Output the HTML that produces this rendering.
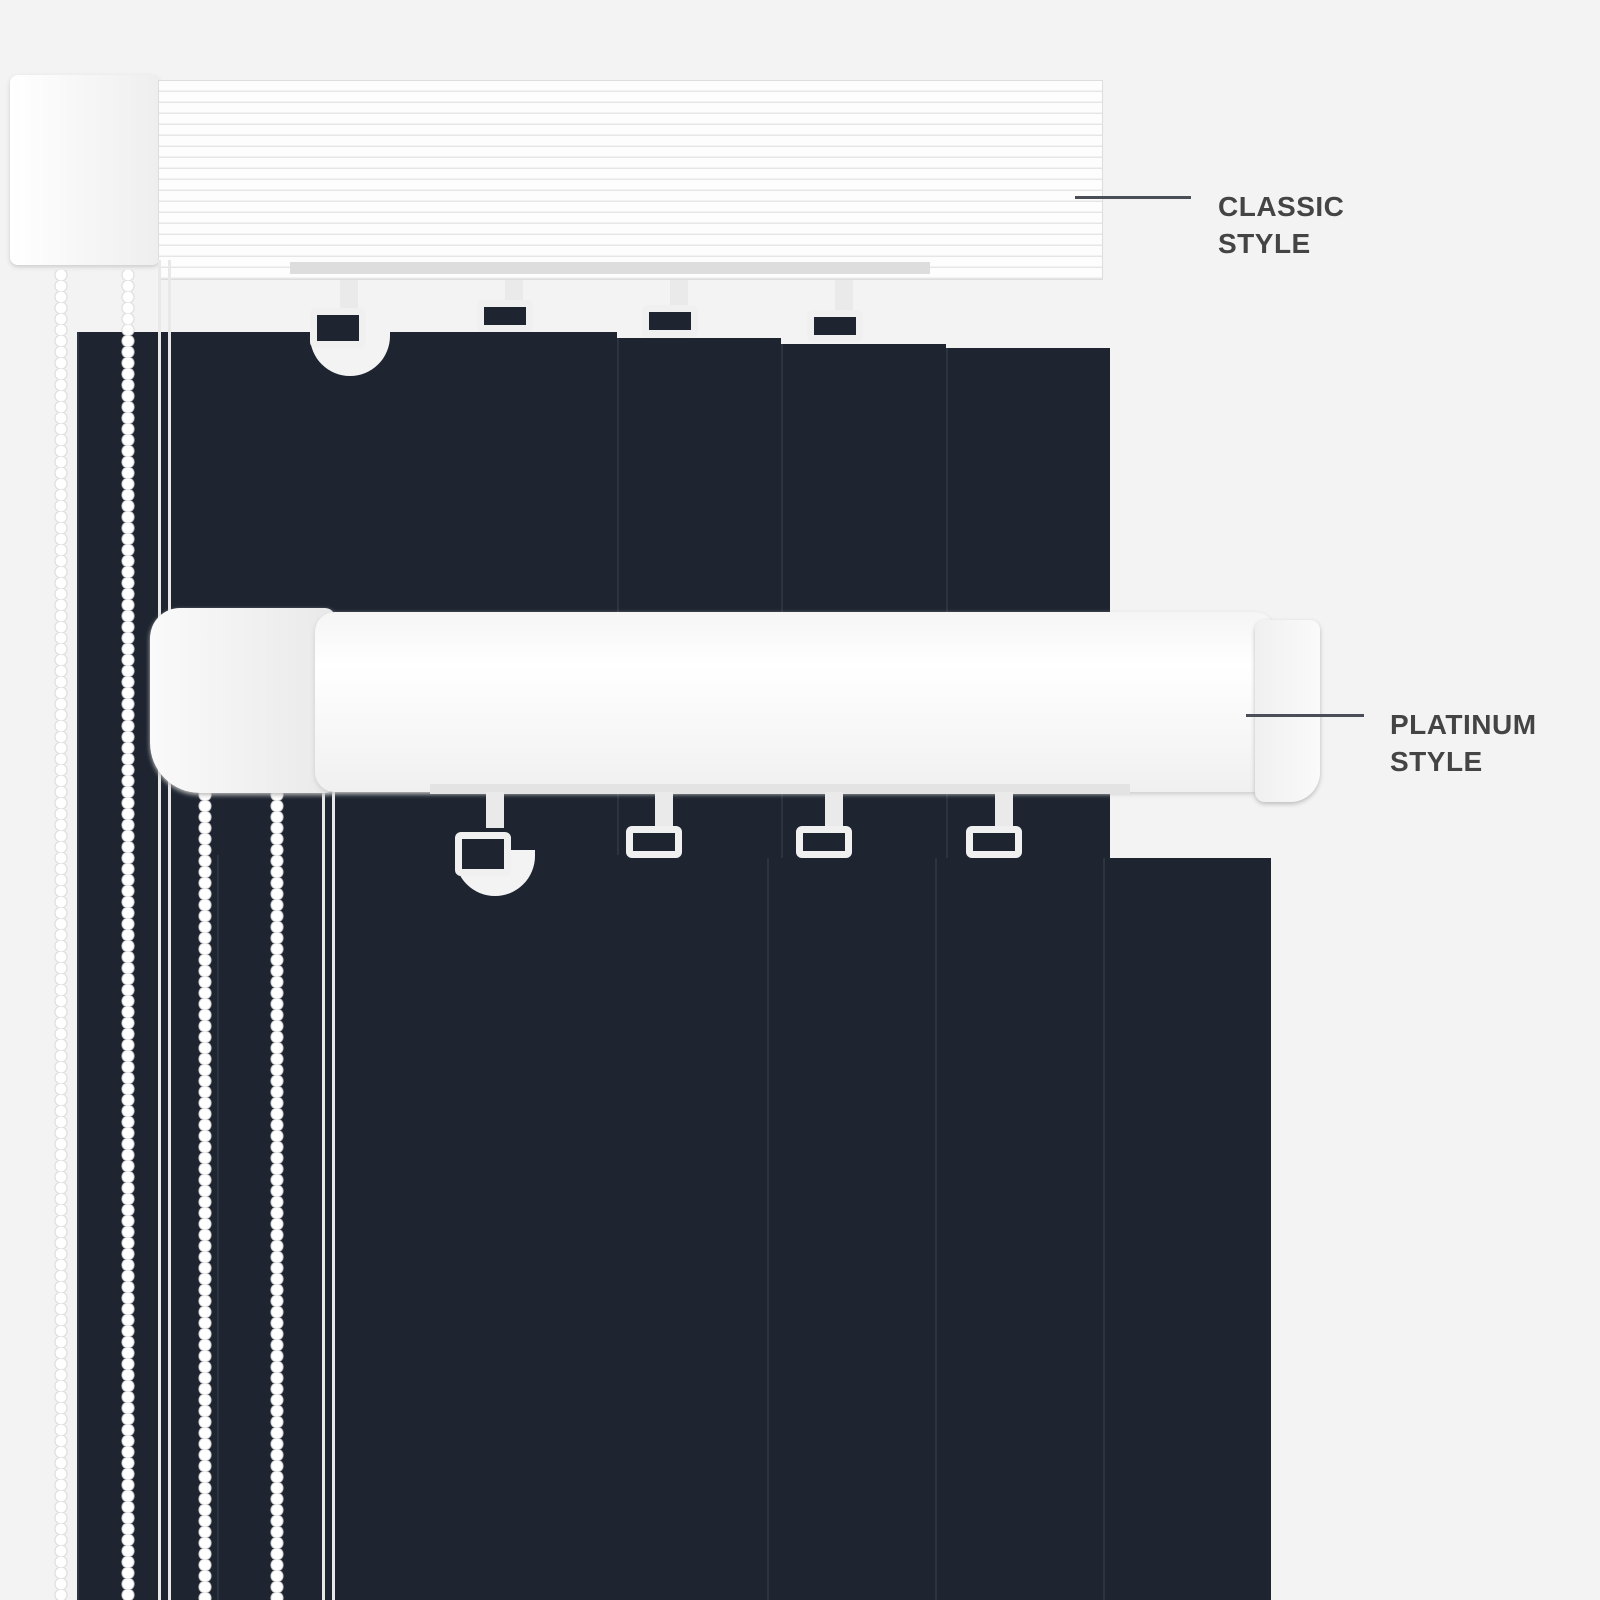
<!DOCTYPE html>
<html><head><style>
body{margin:0;width:1600px;height:1600px;background:#f3f3f3;position:relative;overflow:hidden;font-family:"Liberation Sans",sans-serif}
div{position:absolute;box-sizing:border-box}
.slat{background:#1e2531;border-left:2px solid #2c3441}
.bead{width:14px;background:radial-gradient(circle at 7px 5px,#fff 5px,#d8d8d8 6px,transparent 7px) 0 0/14px 11px repeat-y}
.cord{width:3px;background:#e8e8e8}
.hook{width:56px;height:40px;border:7px solid #f0f0f0;border-radius:6px;background:#1e2531}
.stem{width:18px;height:36px;background:#eaeaea}
.lbl{color:#444;font-size:28px;font-weight:bold;line-height:37px;letter-spacing:0.5px}
.line{height:3px;background:#4a4f57}
</style></head><body>
<!-- back slats -->
<div class="slat" style="left:77px;top:332px;width:540px;height:1268px"></div>
<div class="slat" style="left:617px;top:338px;width:164px;height:1262px"></div>
<div class="slat" style="left:781px;top:344px;width:165px;height:1256px"></div>
<div class="slat" style="left:946px;top:348px;width:164px;height:1252px"></div>
<div style="left:310px;top:330px;width:80px;height:46px;border-radius:0 0 40px 40px;background:#f3f3f3"></div>
<!-- classic rail -->
<div style="left:10px;top:75px;width:150px;height:190px;background:linear-gradient(90deg,#fff,#eee);border-radius:8px;box-shadow:0 2px 4px #ccc"></div>
<div style="left:158px;top:80px;width:945px;height:200px;background:repeating-linear-gradient(180deg,#fdfdfd 0 9px,#e6e6e6 10px 11px);border:1px solid #ddd"></div>
<div style="left:290px;top:262px;width:640px;height:12px;background:#ddd"></div>
<!-- classic hooks -->
<div class="stem" style="left:340px;top:280px"></div><div class="hook" style="left:310px;top:308px"></div>
<div class="stem" style="left:505px;top:280px"></div><div class="hook" style="left:477px;top:300px;height:32px"></div>
<div class="stem" style="left:670px;top:280px"></div><div class="hook" style="left:642px;top:305px;height:32px"></div>
<div class="stem" style="left:835px;top:280px"></div><div class="hook" style="left:807px;top:310px;height:32px"></div>
<!-- chains left -->
<div class="bead" style="left:54px;top:270px;height:1330px"></div>
<div class="bead" style="left:121px;top:270px;height:1330px"></div>
<div class="cord" style="left:158px;top:260px;height:1340px"></div>
<div class="cord" style="left:168px;top:260px;height:1340px"></div>
<!-- front slats -->
<div class="slat" style="left:217px;top:855px;width:550px;height:745px"></div>
<div class="slat" style="left:767px;top:858px;width:168px;height:742px"></div>
<div class="slat" style="left:935px;top:858px;width:168px;height:742px"></div>
<div class="slat" style="left:1103px;top:858px;width:168px;height:742px"></div>
<div style="left:455px;top:850px;width:80px;height:46px;border-radius:0 0 40px 40px;background:#f3f3f3"></div>
<div class="bead" style="left:198px;top:790px;height:810px"></div>
<div class="bead" style="left:270px;top:790px;height:810px"></div>
<div class="cord" style="left:322px;top:780px;height:820px"></div>
<div class="cord" style="left:332px;top:780px;height:820px"></div>
<!-- platinum rail -->
<div style="left:150px;top:608px;width:185px;height:185px;background:linear-gradient(90deg,#fafafa,#e9e9e9);border-radius:30px 10px 10px 50px;box-shadow:0 2px 5px #bbb"></div>
<div style="left:315px;top:612px;width:960px;height:180px;background:linear-gradient(180deg,#f5f5f5,#fff 30%,#f0f0f0);border-radius:20px;box-shadow:0 2px 5px #ccc"></div>
<div style="left:1255px;top:620px;width:65px;height:182px;background:linear-gradient(90deg,#f0f0f0,#fafafa);border-radius:10px 10px 30px 10px;box-shadow:0 2px 5px #bbb"></div>
<div style="left:430px;top:784px;width:700px;height:10px;background:#e3e3e3"></div>
<!-- platinum hooks -->
<div class="stem" style="left:486px;top:792px"></div><div class="hook" style="left:455px;top:832px;height:44px"></div>
<div class="stem" style="left:655px;top:792px"></div><div class="hook" style="left:626px;top:826px;height:32px"></div>
<div class="stem" style="left:825px;top:792px"></div><div class="hook" style="left:796px;top:826px;height:32px"></div>
<div class="stem" style="left:995px;top:792px"></div><div class="hook" style="left:966px;top:826px;height:32px"></div>
<!-- labels -->
<div class="line" style="left:1075px;top:196px;width:116px"></div>
<div class="lbl" style="left:1218px;top:188px">CLASSIC<br>STYLE</div>
<div class="line" style="left:1246px;top:714px;width:118px"></div>
<div class="lbl" style="left:1390px;top:706px">PLATINUM<br>STYLE</div>
</body></html>
